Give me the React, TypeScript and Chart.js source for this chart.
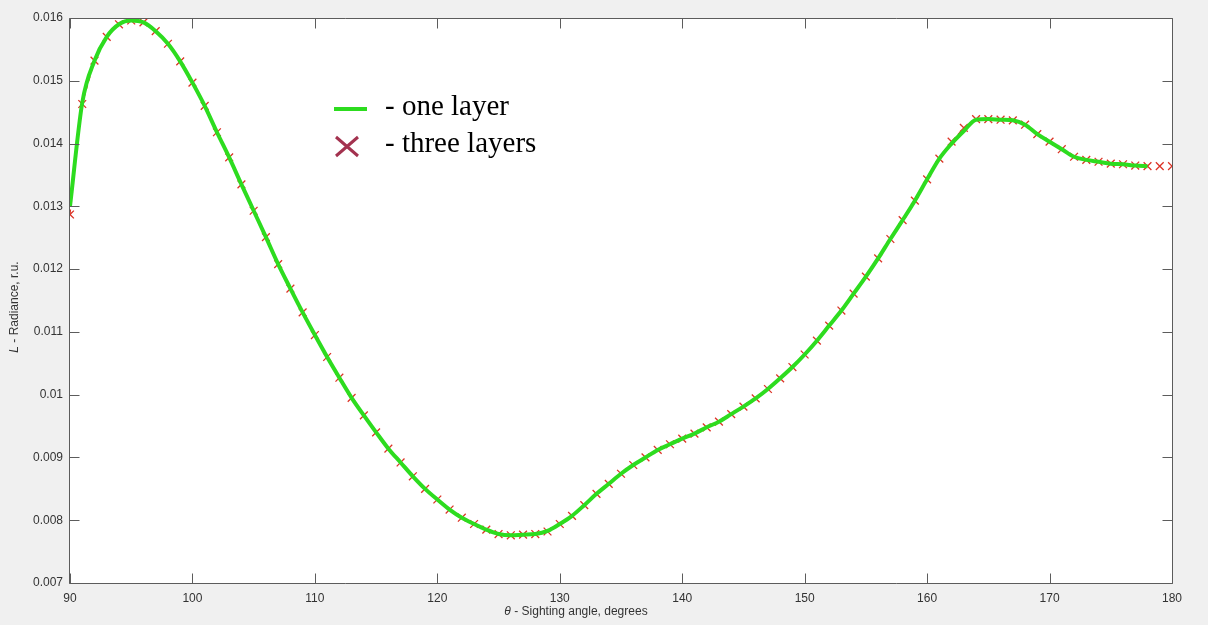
import React, { useEffect, useRef } from "react";
import { Chart, registerables } from "chart.js";

Chart.register(...registerables);

// Sighting angle, degrees
const angles = [
  90, 91, 92, 93, 94, 95, 96, 97, 98, 99,
  100, 101, 102, 103, 104, 105, 106, 107, 108, 109,
  110, 111, 112, 113, 114, 115, 116, 117, 118, 119,
  120, 121, 122, 123, 124, 125, 126, 127, 128, 129,
  130, 131, 132, 133, 134, 135, 136, 137, 138, 139,
  140, 141, 142, 143, 144, 145, 146, 147, 148, 149,
  150, 151, 152, 153, 154, 155, 156, 157, 158, 159,
  160, 161, 162, 163, 164, 165, 166, 167, 168, 169,
  170, 171, 172, 173, 174, 175, 176, 177, 178, 179,
  180,
];

// Radiance, one layer (green line)
const oneLayer = [
  0.01300, 0.01465, 0.01532, 0.01570, 0.01590, 0.01596, 0.01593, 0.01579, 0.01559, 0.01531,
  0.01497, 0.01460, 0.01418, 0.01378, 0.01335, 0.01293, 0.01251, 0.01208, 0.01169, 0.01131,
  0.01095, 0.01060, 0.01027, 0.00995, 0.00967, 0.00940, 0.00914, 0.00892, 0.00870, 0.00850,
  0.00833, 0.00817, 0.00804, 0.00794, 0.00785, 0.00778, 0.00776, 0.00777, 0.00778, 0.00783,
  0.00794, 0.00807, 0.00824, 0.00842, 0.00858, 0.00874, 0.00888, 0.00900, 0.00912, 0.00921,
  0.00930, 0.00938, 0.00948, 0.00957, 0.00969, 0.00981, 0.00994, 0.01009, 0.01026, 0.01044,
  0.01064, 0.01086, 0.01110, 0.01134, 0.01161, 0.01188, 0.01217, 0.01248, 0.01278, 0.01309,
  0.01343, 0.01376, 0.01400, 0.01420, 0.01438, 0.01439, 0.01438, 0.01437, 0.01430, 0.01415,
  0.01403, 0.01391, 0.01379, 0.01374, 0.01371, 0.01368, 0.01367, 0.01365, 0.01364, null,
  null,
];

// Radiance, three layers (red crosses)
const threeLayers = [
  0.01287, 0.01463, 0.01532, 0.01570, 0.01590, 0.01596, 0.01593, 0.01579, 0.01559, 0.01531,
  0.01497, 0.01460, 0.01418, 0.01378, 0.01335, 0.01293, 0.01251, 0.01208, 0.01169, 0.01131,
  0.01095, 0.01060, 0.01027, 0.00995, 0.00967, 0.00940, 0.00914, 0.00892, 0.00870, 0.00850,
  0.00833, 0.00817, 0.00804, 0.00794, 0.00785, 0.00778, 0.00776, 0.00777, 0.00778, 0.00782,
  0.00794, 0.00807, 0.00824, 0.00842, 0.00858, 0.00874, 0.00888, 0.00900, 0.00912, 0.00921,
  0.00930, 0.00938, 0.00948, 0.00957, 0.00969, 0.00981, 0.00994, 0.01009, 0.01026, 0.01044,
  0.01064, 0.01086, 0.01110, 0.01134, 0.01161, 0.01188, 0.01217, 0.01248, 0.01278, 0.01309,
  0.01343, 0.01376, 0.01403, 0.01425, 0.01439, 0.01439, 0.01438, 0.01437, 0.01430, 0.01415,
  0.01403, 0.01391, 0.01379, 0.01374, 0.01371, 0.01368, 0.01367, 0.01365, 0.01364, 0.01364,
  0.01364,
];

const xTickValues = [90, 100, 110, 120, 130, 140, 150, 160, 170, 180];
const yTickValues = [0.007, 0.008, 0.009, 0.01, 0.011, 0.012, 0.013, 0.014, 0.015, 0.016];

const legendLabels = ["- one layer", "- three layers"];
const xTitleParts = ["\u03b8", " - Sighting angle, degrees"];
const yTitleParts = ["L", " - Radiance, r.u."];

const GREEN = "#2ddc1f";
const RED = "#dc3326";
const LEGEND_RED = "#a3324f";
const AXIS = "#5c5c5c";
const TEXT = "#333333";
const SANS = "'Liberation Sans', Arial, sans-serif";

const framePlugin = {
  id: "matlabFrame",
  beforeDraw(chart: any) {
    const { ctx, chartArea: a } = chart;
    ctx.save();
    ctx.fillStyle = "#ffffff";
    ctx.fillRect(a.left, a.top, a.right - a.left, a.bottom - a.top);
    ctx.restore();
  },
  afterDatasetsDraw(chart: any) {
    const { ctx, chartArea: a, scales } = chart;
    const xs = scales.x;
    const ys = scales.y;
    const L = Math.round(a.left) - 0.5;
    const R = Math.round(a.right) + 0.5;
    const T = Math.round(a.top) + 0.5;
    const B = Math.round(a.bottom) + 0.5;
    ctx.save();
    ctx.strokeStyle = AXIS;
    ctx.lineWidth = 1;
    ctx.beginPath();
    ctx.moveTo(L, T);
    ctx.lineTo(R, T);
    ctx.lineTo(R, B);
    ctx.lineTo(L, B);
    ctx.closePath();
    ctx.stroke();
    const tl = 10;
    ctx.beginPath();
    xs.ticks.forEach((t: any) => {
      const px = Math.round(xs.getPixelForValue(t.value)) + 0.5;
      ctx.moveTo(px, B);
      ctx.lineTo(px, B - tl);
      ctx.moveTo(px, T);
      ctx.lineTo(px, T + tl);
    });
    ys.ticks.forEach((t: any) => {
      const py = Math.round(ys.getPixelForValue(t.value)) + 0.5;
      ctx.moveTo(L, py);
      ctx.lineTo(L + tl, py);
      ctx.moveTo(R, py);
      ctx.lineTo(R - tl, py);
    });
    ctx.stroke();
    ctx.restore();
  },
  afterDraw(chart: any) {
    const { ctx } = chart;
    ctx.save();
    // axis titles
    ctx.fillStyle = TEXT;
    ctx.textBaseline = "middle";
    const italic = "italic 12px " + SANS;
    const normal = "12px " + SANS;
    ctx.font = italic;
    const xw0 = ctx.measureText(xTitleParts[0]).width;
    ctx.font = normal;
    const xw1 = ctx.measureText(xTitleParts[1]).width;
    const xc = 576;
    const sx = xc - (xw0 + xw1) / 2;
    ctx.font = italic;
    ctx.fillText(xTitleParts[0], sx, 611.5);
    ctx.font = normal;
    ctx.fillText(xTitleParts[1], sx + xw0, 611.5);

    ctx.save();
    ctx.translate(15, 307);
    ctx.rotate(-Math.PI / 2);
    ctx.font = italic;
    const yw0 = ctx.measureText(yTitleParts[0]).width;
    ctx.font = normal;
    const yw1 = ctx.measureText(yTitleParts[1]).width;
    const sy = -(yw0 + yw1) / 2;
    ctx.font = italic;
    ctx.fillText(yTitleParts[0], sy, 0);
    ctx.font = normal;
    ctx.fillText(yTitleParts[1], sy + yw0, 0);
    ctx.restore();

    // legend
    ctx.strokeStyle = GREEN;
    ctx.lineWidth = 4;
    ctx.beginPath();
    ctx.moveTo(334, 109);
    ctx.lineTo(367, 109);
    ctx.stroke();
    ctx.strokeStyle = LEGEND_RED;
    ctx.lineWidth = 3;
    ctx.beginPath();
    ctx.moveTo(336, 137);
    ctx.lineTo(358, 156);
    ctx.moveTo(358, 137);
    ctx.lineTo(336, 156);
    ctx.stroke();
    ctx.fillStyle = "#000000";
    ctx.textBaseline = "alphabetic";
    ctx.font = "29px 'Liberation Serif', 'Times New Roman', serif";
    ctx.fillText(legendLabels[0], 385, 115);
    ctx.fillText(legendLabels[1], 385, 152);
    ctx.restore();
  },
};

export default function App() {
  const canvasRef = useRef<HTMLCanvasElement | null>(null);

  useEffect(() => {
    const canvas = canvasRef.current;
    if (!canvas) return;
    const greenData = angles.map((a, i) => ({ x: a, y: oneLayer[i] }));
    const redData = angles.map((a, i) => ({ x: a, y: threeLayers[i] }));
    const lastGreen = oneLayer.filter((v) => v !== null).length - 1;

    const chart = new Chart(canvas, {
      type: "line",
      data: {
        datasets: [
          {
            label: "one layer",
            data: greenData,
            borderColor: GREEN,
            backgroundColor: GREEN,
            borderWidth: 4,
            pointRadius: 0,
            cubicInterpolationMode: "monotone",
            spanGaps: false,
            order: 0,
          },
          {
            label: "three layers",
            data: redData,
            borderColor: RED,
            backgroundColor: RED,
            borderWidth: 1.2,
            borderDash: [5, 4],
            pointStyle: "crossRot",
            pointRadius: 5.5,
            pointBorderColor: RED,
            pointBorderWidth: 1.3,
            order: 1,
            segment: {
              borderColor: (c: any) => (c.p1DataIndex > lastGreen ? "rgba(0,0,0,0)" : RED),
            },
          },
        ],
      },
      options: {
        animation: false,
        responsive: false,
        devicePixelRatio: 1,
        layout: { padding: { top: 18, right: 36, left: 0, bottom: 0 } },
        plugins: {
          legend: { display: false },
          tooltip: { enabled: false },
        },
        scales: {
          x: {
            type: "linear",
            min: 90,
            max: 180,
            afterBuildTicks: (s: any) => {
              s.ticks = xTickValues.map((v) => ({ value: v }));
            },
            afterFit: (s: any) => {
              s.height = 42;
            },
            grid: { display: false, drawTicks: false },
            border: { display: false },
            ticks: {
              padding: 8,
              color: TEXT,
              font: { family: SANS, size: 12 },
              maxRotation: 0,
              autoSkip: false,
            },
          },
          y: {
            type: "linear",
            min: 0.007,
            max: 0.016,
            afterBuildTicks: (s: any) => {
              s.ticks = yTickValues.map((v) => ({ value: v }));
            },
            afterFit: (s: any) => {
              s.width = 70;
            },
            grid: { display: false, drawTicks: false },
            border: { display: false },
            ticks: {
              padding: 7,
              color: TEXT,
              font: { family: SANS, size: 12 },
              autoSkip: false,
              callback: (v: any) => String(Number(Number(v).toFixed(3))),
            },
          },
        },
      },
      plugins: [framePlugin],
    });
    return () => chart.destroy();
  }, []);

  return (
    <div
      style={{
        position: "fixed",
        left: 0,
        top: 0,
        width: 1208,
        height: 625,
        background: "#f0f0f0",
      }}
    >
      <canvas ref={canvasRef} width={1208} height={625} style={{ display: "block" }} />
    </div>
  );
}
